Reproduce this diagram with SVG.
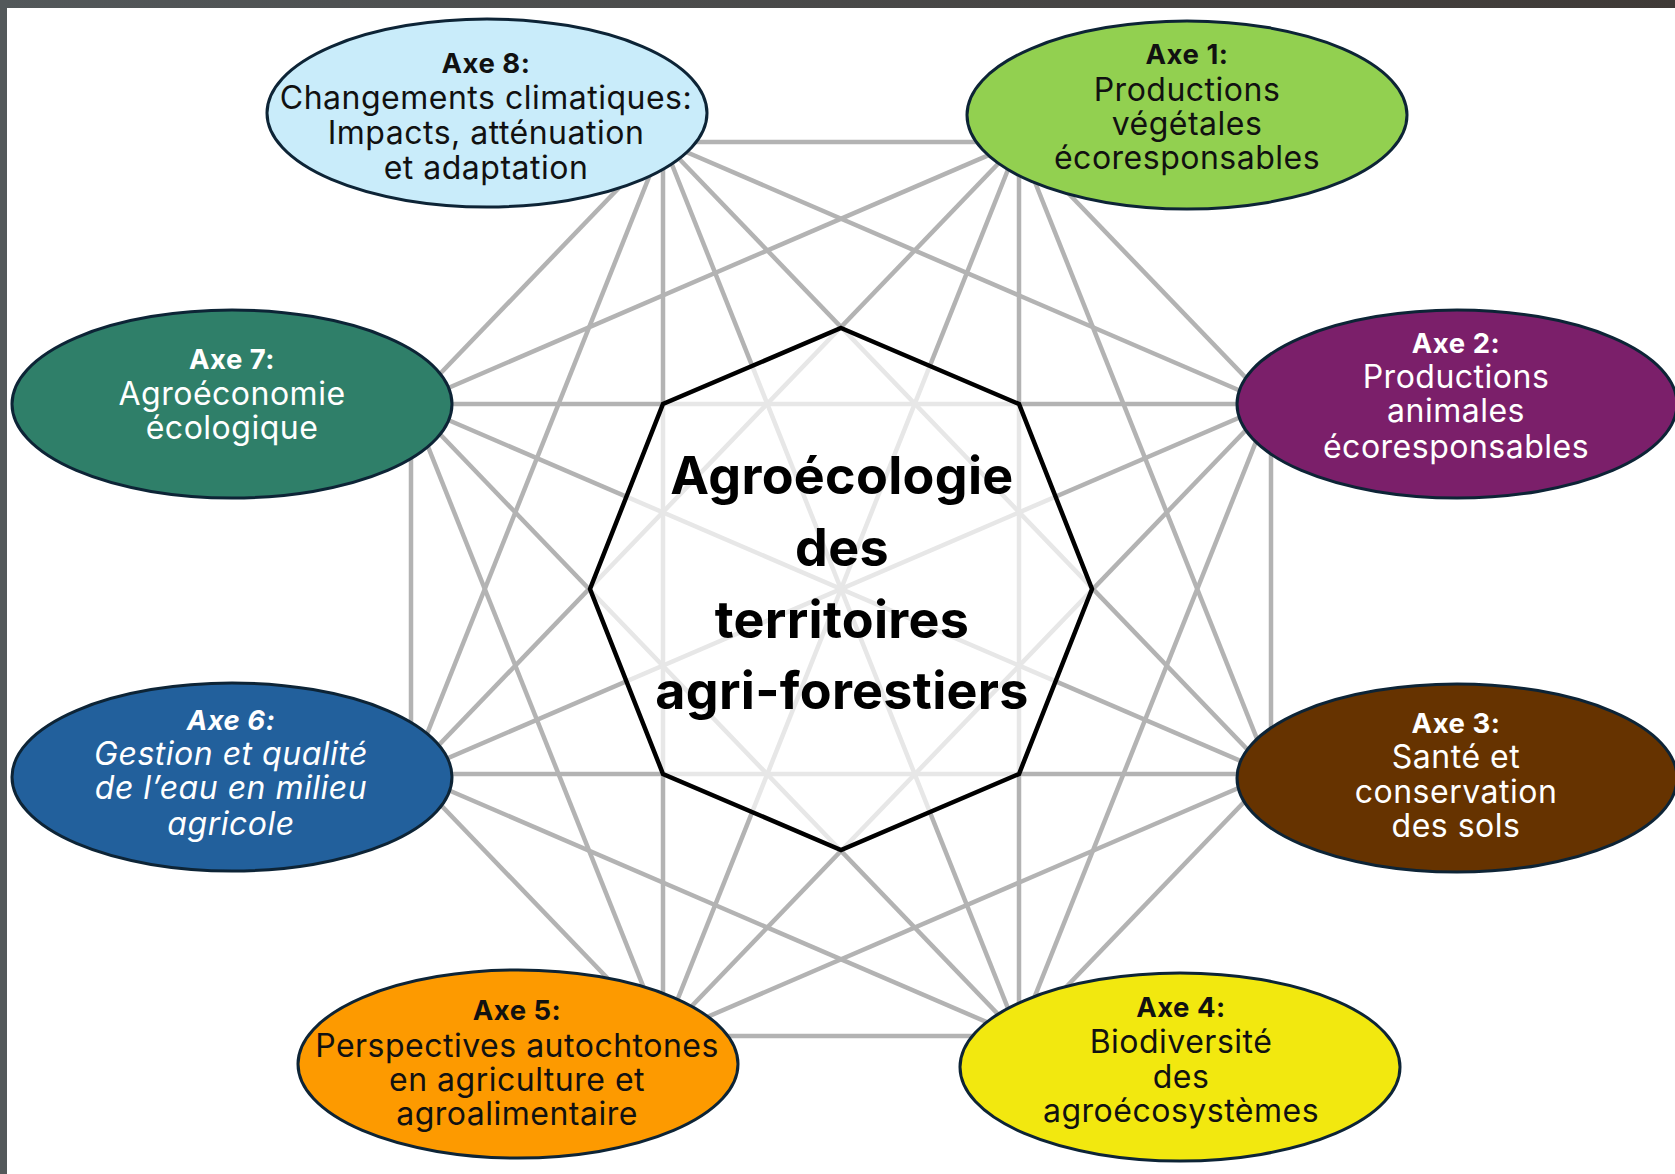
<svg xmlns="http://www.w3.org/2000/svg" width="1675" height="1174" viewBox="0 0 1675 1174">
<defs>
<linearGradient id="bar" x1="0" y1="0" x2="1" y2="0">
<stop offset="0" stop-color="#53585a"/>
<stop offset="1" stop-color="#3f3a37"/>
</linearGradient>
<style>
.ln{stroke:#b3b3b3;stroke-width:4.5;fill:none}
.el{stroke:#0d2436;stroke-width:3}
.t{font-family:Inter,"Liberation Sans",sans-serif;text-anchor:middle;letter-spacing:0.5px}
.lab{font-size:27.5px;font-weight:700}
.body{font-size:32px}
.dk{fill:#111}
.wh{fill:#ffffff}
.ctr{font-family:Inter,"Liberation Sans",sans-serif;font-size:52px;font-weight:700;text-anchor:middle;fill:#000;letter-spacing:0.3px}
</style>
</defs>
<rect x="0" y="0" width="1675" height="1174" fill="#ffffff"/>
<rect x="0" y="0" width="1675" height="8" fill="url(#bar)"/>
<rect x="0" y="0" width="7" height="1174" fill="#53585a"/>

<g id="connectors">
<line class="ln" x1="1019" y1="142" x2="1271" y2="404"/>
<line class="ln" x1="1019" y1="142" x2="1271" y2="774"/>
<line class="ln" x1="1019" y1="142" x2="1019" y2="1036"/>
<line class="ln" x1="1019" y1="142" x2="663" y2="1036"/>
<line class="ln" x1="1019" y1="142" x2="411" y2="774"/>
<line class="ln" x1="1019" y1="142" x2="411" y2="404"/>
<line class="ln" x1="1019" y1="142" x2="663" y2="142"/>
<line class="ln" x1="1271" y1="404" x2="1271" y2="774"/>
<line class="ln" x1="1271" y1="404" x2="1019" y2="1036"/>
<line class="ln" x1="1271" y1="404" x2="663" y2="1036"/>
<line class="ln" x1="1271" y1="404" x2="411" y2="774"/>
<line class="ln" x1="1271" y1="404" x2="411" y2="404"/>
<line class="ln" x1="1271" y1="404" x2="663" y2="142"/>
<line class="ln" x1="1271" y1="774" x2="1019" y2="1036"/>
<line class="ln" x1="1271" y1="774" x2="663" y2="1036"/>
<line class="ln" x1="1271" y1="774" x2="411" y2="774"/>
<line class="ln" x1="1271" y1="774" x2="411" y2="404"/>
<line class="ln" x1="1271" y1="774" x2="663" y2="142"/>
<line class="ln" x1="1019" y1="1036" x2="663" y2="1036"/>
<line class="ln" x1="1019" y1="1036" x2="411" y2="774"/>
<line class="ln" x1="1019" y1="1036" x2="411" y2="404"/>
<line class="ln" x1="1019" y1="1036" x2="663" y2="142"/>
<line class="ln" x1="663" y1="1036" x2="411" y2="774"/>
<line class="ln" x1="663" y1="1036" x2="411" y2="404"/>
<line class="ln" x1="663" y1="1036" x2="663" y2="142"/>
<line class="ln" x1="411" y1="774" x2="411" y2="404"/>
<line class="ln" x1="411" y1="774" x2="663" y2="142"/>
<line class="ln" x1="411" y1="404" x2="663" y2="142"/>
</g>

<g id="center">
<polygon points="841,328 1019,404 1092,589 1019,774 841,850 663,774 590,589 663,404" fill="#ffffff" fill-opacity="0.68" stroke="#000" stroke-width="4.5" stroke-linejoin="miter"/>
<text class="ctr"><tspan x="842" y="494">Agroécologie</tspan><tspan x="842" y="566">des</tspan><tspan x="842" y="638">territoires</tspan><tspan x="842" y="709">agri-forestiers</tspan></text>
</g>

<g id="axe8">
<ellipse class="el" cx="487" cy="113" rx="220" ry="94" fill="#c9ecfa"/>
<text class="t dk"><tspan class="lab" x="486" y="72.5">Axe 8:</tspan><tspan class="body" x="486" y="109">Changements climatiques:</tspan><tspan class="body" x="486" y="143.5">Impacts, atténuation</tspan><tspan class="body" x="486" y="179">et adaptation</tspan></text>
</g>
<g id="axe1">
<ellipse class="el" cx="1187" cy="115" rx="220" ry="94" fill="#92d050"/>
<text class="t dk"><tspan class="lab" x="1187" y="64">Axe 1:</tspan><tspan class="body" x="1187" y="101">Productions</tspan><tspan class="body" x="1187" y="135">végétales</tspan><tspan class="body" x="1187" y="169">écoresponsables</tspan></text>
</g>
<g id="axe2">
<ellipse class="el" cx="1457" cy="404" rx="220" ry="94" fill="#7b1f6a"/>
<text class="t wh"><tspan class="lab" x="1456" y="352.5">Axe 2:</tspan><tspan class="body" x="1456" y="388">Productions</tspan><tspan class="body" x="1456" y="422">animales</tspan><tspan class="body" x="1456" y="457.5">écoresponsables</tspan></text>
</g>
<g id="axe3">
<ellipse class="el" cx="1457" cy="778" rx="220" ry="94" fill="#663300"/>
<text class="t wh"><tspan class="lab" x="1456" y="732.5">Axe 3:</tspan><tspan class="body" x="1456" y="768">Santé et</tspan><tspan class="body" x="1456" y="802.5">conservation</tspan><tspan class="body" x="1456" y="837">des sols</tspan></text>
</g>
<g id="axe4">
<ellipse class="el" cx="1180" cy="1067" rx="220" ry="94" fill="#f2e80f"/>
<text class="t dk"><tspan class="lab" x="1181" y="1016.5">Axe 4:</tspan><tspan class="body" x="1181" y="1052.5">Biodiversité</tspan><tspan class="body" x="1181" y="1088">des</tspan><tspan class="body" x="1181" y="1122">agroécosystèmes</tspan></text>
</g>
<g id="axe5">
<ellipse class="el" cx="518" cy="1064" rx="220" ry="94" fill="#fd9a00"/>
<text class="t dk"><tspan class="lab" x="517" y="1020">Axe 5:</tspan><tspan class="body" x="517" y="1057">Perspectives autochtones</tspan><tspan class="body" x="517" y="1091">en agriculture et</tspan><tspan class="body" x="517" y="1125">agroalimentaire</tspan></text>
</g>
<g id="axe6">
<ellipse class="el" cx="232" cy="777" rx="220" ry="94" fill="#22609c"/>
<text class="t wh" font-style="italic"><tspan class="lab" x="231" y="729.5">Axe 6:</tspan><tspan class="body" x="231" y="765">Gestion et qualité</tspan><tspan class="body" x="231" y="799">de l’eau en milieu</tspan><tspan class="body" x="231" y="834.5">agricole</tspan></text>
</g>
<g id="axe7">
<ellipse class="el" cx="232" cy="404" rx="220" ry="94" fill="#2f7f69"/>
<text class="t wh"><tspan class="lab" x="232" y="368.5">Axe 7:</tspan><tspan class="body" x="232" y="405">Agroéconomie</tspan><tspan class="body" x="232" y="439">écologique</tspan></text>
</g>
</svg>
